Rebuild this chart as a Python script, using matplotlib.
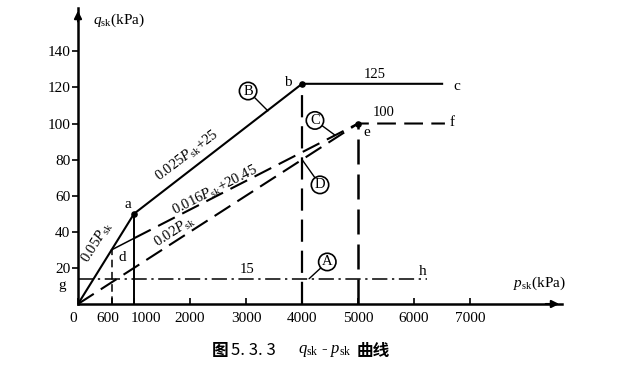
import matplotlib
matplotlib.use("Agg")
import matplotlib.pyplot as plt
from matplotlib.transforms import ScaledTranslation

# values (p_sk in kPa, q_sk in kPa)
B_P = [0, 1000, 4000, 6500]
B_Q = [0, 50, 122, 122]
C_SOLID_P = [600, 1000]
C_SOLID_Q = [30, 36.4]
C_DASH_P = [1000, 5000, 6550]
C_DASH_Q = [36.4, 100, 100]
D_P = [0, 5000]
D_Q = [0, 100]
A_P = [0, 6230]
A_Q = [14, 14]
VERT_P = [600, 1000, 4000, 5000]
VERT_Q = [30, 50, 122, 100]
DOT_P = [1000, 4000, 5000]
DOT_Q = [50, 122, 100]

X_TICKS = [0, 600, 1000, 2000, 3000, 4000, 5000, 6000, 7000]
Y_TICKS = [20, 40, 60, 80, 100, 120, 140]

SERIF = "Liberation Serif"
CJK = "Noto Sans CJK SC"

plt.rcParams.update(
    {
        "font.family": [SERIF, CJK],
        "mathtext.fontset": "custom",
        "mathtext.rm": SERIF,
        "mathtext.it": SERIF + ":italic",
        "font.size": 11,
    }
)

fig = plt.figure(figsize=(6.18, 3.73), dpi=100)
ax = fig.add_axes([78 / 618, 69 / 373, 484 / 618, 296 / 373])
ax.set_xlim(0, 8640)
ax.set_ylim(0, 164)

for side in ("top", "right"):
    ax.spines[side].set_visible(False)
for side in ("left", "bottom"):
    ax.spines[side].set_linewidth(1.8)

ax.annotate("", xy=(8640, 0), xytext=(8300, 0),
            arrowprops=dict(arrowstyle="-|>", color="k", lw=1.5, mutation_scale=11),
            annotation_clip=False)
ax.annotate("", xy=(0, 164), xytext=(0, 155),
            arrowprops=dict(arrowstyle="-|>", color="k", lw=1.5, mutation_scale=11),
            annotation_clip=False)

ax.set_xticks(X_TICKS, [str(v) for v in X_TICKS])
ax.set_yticks(Y_TICKS, [str(v) for v in Y_TICKS])
ax.tick_params(axis="x", direction="in", length=4, width=1.2, pad=6, labelsize=11)
ax.tick_params(axis="y", direction="out", length=4, width=1.2, pad=1.5, labelsize=11)

# the crowded labels near the origin sit a little off their ticks
shifts = {"0": -5, "600": -4, "1000": 12}
for label in ax.get_xticklabels():
    dx = shifts.get(label.get_text(), 0)
    if dx:
        label.set_transform(label.get_transform() + ScaledTranslation(dx / 100, 0, fig.dpi_scale_trans))

lw = 1.5
ax.plot(B_P, B_Q, color="k", lw=lw)
ax.plot(C_SOLID_P, C_SOLID_Q, color="k", lw=1.1)
ax.plot(C_DASH_P, C_DASH_Q, color="k", lw=lw, dashes=(9, 4))
ax.plot(D_P, D_Q, color="k", lw=lw, dashes=(9, 4))
ax.plot(A_P, A_Q, color="k", lw=1.1, dashes=(10, 3, 1.5, 3))

# verticals: 600 short dashes, 1000 solid, 4000/5000 long dashes
ax.plot([VERT_P[0]] * 2, [0, VERT_Q[0]], color="k", lw=1.1, dashes=(5, 3))
ax.plot([VERT_P[1]] * 2, [0, VERT_Q[1]], color="k", lw=1.4)
ax.plot([VERT_P[2]] * 2, [0, VERT_Q[2]], color="k", lw=1.6, dashes=(10, 4))
ax.plot([VERT_P[3]] * 2, [0, VERT_Q[3]], color="k", lw=1.8, dashes=(10, 4))

ax.scatter(DOT_P, DOT_Q, s=14, color="k", zorder=5)

# point letters
for txt, x, y in [("a", 893, 55), ("b", 3750, 123), ("c", 6770, 120.5),
                  ("e", 5160, 95), ("f", 6680, 100.5), ("d", 790, 26), ("h", 6160, 18)]:
    ax.text(x, y, txt, ha="center", va="center", fontsize=11)
ax.text(-285, 10.5, "g", ha="center", va="center", fontsize=11, clip_on=False)

ax.text(5300, 127, "125", ha="center", va="center", fontsize=10.5)
ax.text(5450, 106, "100", ha="center", va="center", fontsize=10.5)
ax.text(3020, 19, "15", ha="center", va="center", fontsize=10.5)

# formulas along the lines
ax.text(340, 34, r"0.05$P_{\rm sk}$", rotation=58, ha="center", va="center", fontsize=10.5)
ax.text(1946, 82, r"0.025$P_{\rm sk}$+25", rotation=37, ha="center", va="center", fontsize=10.5)
ax.text(2446, 63, r"0.016$P_{\rm sk}$+20.45", rotation=27, ha="center", va="center", fontsize=10.5)
ax.text(1732, 40, r"0.02$P_{\rm sk}$", rotation=33, ha="center", va="center", fontsize=10.5)

# circled curve labels with leaders
for txt, cx, cy, lx, ly in [("B", 3036, 118, 3390, 107), ("C", 4230, 101.7, 4590, 93.5),
                            ("D", 4320, 66, 4000, 80), ("A", 4450, 23.3, 4125, 14)]:
    ax.annotate(txt, xy=(lx, ly), xytext=(cx, cy), ha="center", va="center", fontsize=10.5,
                bbox=dict(boxstyle="circle,pad=0.15", fc="white", ec="k", lw=1.2),
                arrowprops=dict(arrowstyle="-", color="k", lw=1.0, shrinkA=0, shrinkB=0))

# axis titles
ax.text(268, 157, r"$q_{\rm sk}$(kPa)", ha="left", va="center", fontsize=11, clip_on=False)
ax.text(7770, 11.7, r"$p_{\rm sk}$(kPa)", ha="left", va="center", fontsize=11, clip_on=False)

# caption
cap_y = 0.059
fig.text(212 / 618, cap_y, "图", family=[CJK], fontsize=12,
         fontweight="bold", ha="left", va="center")
fig.text(231 / 618, cap_y, "5. 3. 3", family=[CJK], fontsize=12,
         ha="left", va="center")
fig.text(298 / 618, cap_y, r"$q_{\rm sk}$ - $p_{\rm sk}$", fontsize=12,
         ha="left", va="center")
fig.text(357 / 618, cap_y, "曲线", family=[CJK], fontsize=12,
         fontweight="bold", ha="left", va="center")

fig.savefig("out.png", dpi=100)
